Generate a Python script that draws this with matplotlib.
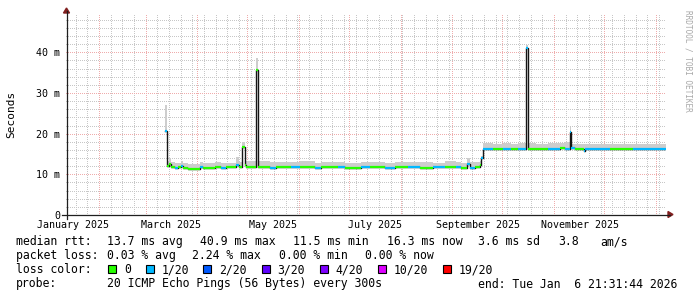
import numpy as np
import matplotlib
matplotlib.use("Agg")
import matplotlib.pyplot as plt
import matplotlib.dates as mdates
from matplotlib.patches import Rectangle, Polygon
from matplotlib.lines import Line2D
from matplotlib.transforms import blended_transform_factory

# ---------------- data ----------------
x_start = "2025-01-11T21:31"
x_end = "2026-01-06T21:31"
data_end = "2026-01-06T21:31"

seg_start = [
    "2025-03-12T12:00", "2025-03-13T06:00", "2025-03-14T20:00", "2025-03-15T20:00",
    "2025-03-18T00:00", "2025-03-20T00:00", "2025-03-22T00:00", "2025-03-23T00:00",
    "2025-03-26T00:00", "2025-04-02T12:00", "2025-04-04T00:00", "2025-04-11T00:00",
    "2025-04-15T00:00", "2025-04-18T00:00", "2025-04-24T02:00", "2025-04-25T10:00",
    "2025-04-27T12:00", "2025-04-29T00:00", "2025-04-30T00:00", "2025-05-06T02:00",
    "2025-05-06T20:00", "2025-05-14T00:00", "2025-05-18T00:00", "2025-05-27T00:00",
    "2025-06-01T00:00", "2025-06-10T00:00", "2025-06-14T00:00", "2025-06-24T00:00",
    "2025-06-28T00:00", "2025-07-08T00:00", "2025-07-13T00:00", "2025-07-22T00:00",
    "2025-07-28T00:00", "2025-08-05T00:00", "2025-08-12T00:00", "2025-08-20T00:00",
    "2025-08-27T00:00", "2025-09-03T00:00", "2025-09-06T00:00", "2025-09-09T19:00",
    "2025-09-11T00:00", "2025-09-14T00:00", "2025-09-17T00:00", "2025-09-18T02:00",
    "2025-09-19T02:00", "2025-09-25T00:00", "2025-10-01T00:00", "2025-10-06T00:00",
    "2025-10-10T00:00", "2025-10-15T02:00", "2025-10-15T20:00", "2025-10-21T00:00",
    "2025-10-28T00:00", "2025-11-04T00:00", "2025-11-07T00:00", "2025-11-10T00:00",
    "2025-11-10T20:00", "2025-11-13T00:00", "2025-11-18T12:00", "2025-11-19T12:00",
    "2025-11-25T00:00", "2025-12-04T00:00", "2025-12-18T00:00",
]
seg_median_ms = [
    20.7, 12.0, 12.6, 11.7,
    11.6, 11.8, 12.1, 11.6,
    11.4, 11.9, 11.6, 11.7,
    11.6, 11.7, 12.3, 11.7,
    16.7, 12.2, 11.7, 35.6,
    11.8, 11.6, 11.8, 11.7,
    11.9, 11.6, 11.7, 11.8,
    11.6, 11.7, 11.8, 11.6,
    11.7, 11.8, 11.6, 11.7,
    11.8, 11.7, 11.6, 12.6,
    11.6, 11.8, 12.2, 13.9,
    16.3, 16.2, 16.3, 16.2,
    16.3, 41.0, 16.3, 16.2,
    16.3, 16.4, 16.3, 20.4,
    16.4, 16.3, 15.8, 16.3,
    16.3, 16.2, 16.3,
]
seg_smoke_top_ms = [
    27.0, 13.4, 14.1, 13.0,
    12.9, 12.8, 13.3, 12.8,
    12.6, 13.0, 12.9, 13.1,
    12.8, 12.9, 14.2, 13.0,
    18.0, 13.3, 13.2, 38.6,
    13.2, 13.0, 13.1, 13.0,
    13.2, 12.9, 13.0, 13.1,
    12.9, 13.0, 13.1, 12.9,
    13.0, 13.1, 13.0, 12.9,
    13.2, 13.0, 12.9, 13.9,
    13.0, 13.1, 13.2, 14.5,
    17.6, 17.5, 17.6, 17.4,
    17.6, 41.8, 17.6, 17.5,
    17.7, 17.6, 17.9, 21.7,
    17.5, 17.5, 17.4, 17.5,
    17.5, 17.4, 17.5,
]
seg_loss = [
    1, 0, 0, 0,
    1, 0, 1, 0,
    0, 1, 0, 0,
    1, 0, 1, 0,
    0, 0, 0, 0,
    0, 1, 0, 1,
    0, 1, 0, 1,
    0, 1, 0, 1,
    0, 1, 0, 1,
    0, 1, 0, 1,
    1, 0, 0, 1,
    1, 0, 1, 0,
    1, 1, 0, 0,
    1, 0, 1, 1,
    1, 0, 1, 1,
    1, 0, 1,
]

month_labels = ["January 2025", "March 2025", "May 2025", "July 2025",
                "September 2025", "November 2025"]
month_label_dates = ["2025-01-16", "2025-03-16", "2025-05-16", "2025-07-16",
                     "2025-09-16", "2025-11-16"]
y_ticks_ms = [0, 10, 20, 30, 40]
y_tick_labels = ["0", "10 m", "20 m", "30 m", "40 m"]

loss_labels = ["0", "1/20", "2/20", "3/20", "4/20", "10/20", "19/20"]
loss_colors = ["#26ff00", "#00b8ff", "#0059ff", "#5e00ff", "#7e00ff", "#dd00ff", "#ff0000"]

rtt_items = ["median rtt:", "13.7 ms avg", "40.9 ms max", "11.5 ms min",
             "16.3 ms now", "3.6 ms sd", "3.8", "am/s"]
loss_items = ["packet loss:", "0.03 % avg", "2.24 % max", "0.00 % min", "0.00 % now"]
probe_items = ["probe:", "20 ICMP Echo Pings (56 Bytes) every 300s",
               "end: Tue Jan  6 21:31:44 2026"]

# ---------------- layout (pixels) ----------------
W, H, DPI = 697, 297, 100
MONO = "DejaVu Sans Mono"
XO, XS, YO, YS = 66, 600, 215, 200
PX_PER_MS = 4.067
Y_TOP = YS / PX_PER_MS

def fx(x):
    return x / W

def fy(y):
    return 1 - y / H

def dnum(s):
    return mdates.date2num(np.datetime64(s, "m"))

fig = plt.figure(figsize=(W / DPI, H / DPI), dpi=DPI, facecolor="white")
ax = fig.add_axes([fx(XO), fy(YO), XS / W, YS / H])
ax.patch.set_visible(False)
for s in ax.spines.values():
    s.set_visible(False)
ax.set_xlim(dnum(x_start), dnum(x_end))
ax.set_ylim(0, Y_TOP)
ax.set_xticks([])
ax.set_yticks([])

# ---------------- dotted grid as a pixel layer (rrdtool style 1 on / 1 off) ----------------
minor_rgba = (150, 150, 150, 135)
major_rgba = (222, 79, 79, 120)
grid = np.zeros((H, W, 4), dtype=np.uint8)
x0d = ax.get_xlim()[0]

def row_of(v):
    return int(round(H - ax.transData.transform((x0d, v))[1]))

def col_of(xv):
    return int(round(ax.transData.transform((xv, 0))[0] - 0.5))

top_row, bot_row = YO - YS, YO
wk = np.arange(np.datetime64("2025-01-18"), np.datetime64("2026-01-07"), np.timedelta64(7, "D"))
months = np.arange(np.datetime64("2025-02"), np.datetime64("2026-02"), np.timedelta64(1, "M"))
for v in range(2, int(Y_TOP) + 1, 2):
    if v % 10:
        grid[row_of(v), XO:XO + XS:2] = minor_rgba
for w in wk:
    grid[top_row:bot_row:2, col_of(mdates.date2num(w))] = minor_rgba
for v in range(10, int(Y_TOP) + 1, 10):
    grid[row_of(v), XO:XO + XS:2] = major_rgba
for m in months:
    grid[top_row:bot_row:2, col_of(mdates.date2num(m.astype("datetime64[D]")))] = major_rgba
fig.figimage(grid, xo=0, yo=0, origin="upper", zorder=-1)

# ---------------- data ----------------
starts = np.array([dnum(s) for s in seg_start])
ends = np.append(starts[1:], dnum(data_end))
med = np.array(seg_median_ms)
top = np.array(seg_smoke_top_ms)
xs = np.append(starts, dnum(data_end))
ym = np.append(med, med[-1])
yt = np.append(top, top[-1])

ax.fill_between(xs, ym, yt, step="post", color="#cdcdcd", lw=0, zorder=1)
ax.plot(xs, ym, drawstyle="steps-post", color="#151515", lw=1.0, zorder=2)
ax.hlines(med, starts, ends, colors=[loss_colors[l] for l in seg_loss],
          lw=1.6, zorder=3, capstyle="butt")

# tick labels
for v, lab in zip(y_ticks_ms, y_tick_labels):
    ax.text(-6 / XS, v, lab, transform=blended_transform_factory(ax.transAxes, ax.transData),
            ha="right", va="center_baseline", fontsize=7.2, family=MONO, color="black")
tr = blended_transform_factory(ax.transData, fig.transFigure)
for d, lab in zip(month_label_dates, month_labels):
    ax.text(dnum(d), fy(228), lab, transform=tr, ha="center", va="baseline",
            fontsize=7.2, family=MONO, color="black", clip_on=False)

fig.text(fx(11), fy(114), "Seconds", rotation=90, ha="center", va="center",
         fontsize=8.0, family=MONO, color="black")

# axes and arrows
axis_col = "#1f1f1f"
arrow_col = "#801f1f"
fig.add_artist(Line2D([fx(XO - 4), fx(XO + XS + 4)], [fy(YO - 0.5), fy(YO - 0.5)],
                      color=axis_col, lw=0.9, transform=fig.transFigure))
fig.add_artist(Line2D([fx(XO + 0.5), fx(XO + 0.5)], [fy(YO + 4), fy(YO - YS - 4)],
                      color=axis_col, lw=0.9, transform=fig.transFigure))
fig.add_artist(Polygon([(fx(XO + XS + 2), fy(YO - 3.5)), (fx(XO + XS + 2), fy(YO + 2.5)),
                        (fx(XO + XS + 7), fy(YO - 0.5))], closed=True, color=arrow_col,
                       transform=fig.transFigure))
fig.add_artist(Polygon([(fx(XO - 2.5), fy(YO - YS - 2)), (fx(XO + 3.5), fy(YO - YS - 2)),
                        (fx(XO + 0.5), fy(YO - YS - 7))], closed=True, color=arrow_col,
                       transform=fig.transFigure))

# watermark
fig.text(fx(688), fy(10), "RRDTOOL / TOBI OETIKER", rotation=270, ha="center", va="top",
         fontsize=5.6, family=MONO, color="#a8a8a8")

# legend
LF = 8.3
rtt_x = [16, 107.3, 200, 292.7, 386.7, 478.3, 558.3, 600]
for x, s in zip(rtt_x, rtt_items):
    fig.text(fx(x), fy(245.3), s, ha="left", va="baseline", fontsize=LF, family=MONO)
loss_x = [16, 107.3, 192.3, 279.3, 365]
for x, s in zip(loss_x, loss_items):
    fig.text(fx(x), fy(259.3), s, ha="left", va="baseline", fontsize=LF, family=MONO)
fig.text(fx(16), fy(273.3), "loss color:", ha="left", va="baseline", fontsize=LF, family=MONO)
box_x = [108.3, 145.7, 203.3, 261.7, 320, 377.7, 442.7]
for bx, lab, col in zip(box_x, loss_labels, loss_colors):
    fig.add_artist(Rectangle((fx(bx), fy(272.5)), 8 / W, 8 / H, facecolor=col,
                             edgecolor="black", lw=0.8, transform=fig.transFigure))
    fig.text(fx(bx + 15.5), fy(273.3), lab, ha="left", va="baseline", fontsize=LF, family=MONO)
probe_x = [16, 107.3, 477.7]
for x, s in zip(probe_x, probe_items):
    fig.text(fx(x), fy(287.5), s, ha="left", va="baseline", fontsize=LF, family=MONO)

fig.savefig("out.png", dpi=DPI, facecolor="white")
